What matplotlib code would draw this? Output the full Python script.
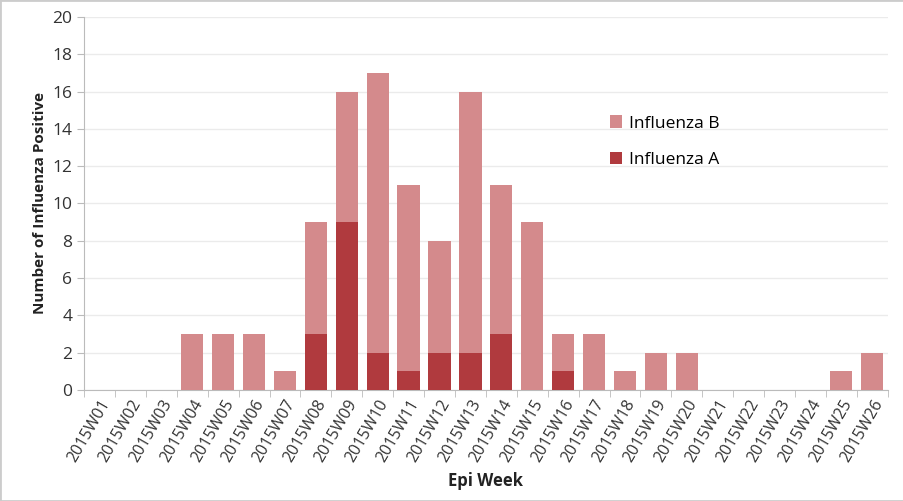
import numpy as np
import matplotlib
matplotlib.use('Agg')
import matplotlib.pyplot as plt

weeks = ['2015W%02d' % i for i in range(1, 27)]
total = [0, 0, 0, 3, 3, 3, 1, 9, 16, 17, 11, 8, 16, 11, 9, 3, 3, 1, 2, 2, 0, 0, 0, 0, 1, 2]
flu_a = [0, 0, 0, 0, 0, 0, 0, 3, 9, 2, 1, 2, 2, 3, 0, 1, 0, 0, 0, 0, 0, 0, 0, 0, 0, 0]
flu_b = [t - a for t, a in zip(total, flu_a)]

plt.rcParams['font.family'] = ['Open Sans', 'DejaVu Sans']

fig = plt.figure(figsize=(9.04, 5.01), dpi=100)
ax = fig.add_axes([0.093, 0.222, 0.889, 0.744])

x = np.arange(len(weeks))
ax.bar(x, flu_a, width=0.72, color='#B03A3E', label='Influenza A', zorder=3)
ax.bar(x, flu_b, width=0.72, bottom=flu_a, color='#D48A8C', label='Influenza B', zorder=3)

ax.set_xlim(-0.5, len(weeks) - 0.5)
ax.set_ylim(0, 20)
ax.set_yticks(range(0, 21, 2))
ax.yaxis.grid(True, color='#ebebeb', linewidth=1, zorder=0)
ax.set_xticks(x)
ax.set_xticklabels(weeks, rotation=60, ha='right', rotation_mode='anchor', fontsize=11.5, color='#333333')
ax.tick_params(axis='y', labelsize=12.5, color='#bbbbbb', labelcolor='#333333', length=5)
ax.set_xticks(np.arange(-0.5, len(weeks), 1), minor=True)
ax.tick_params(axis='x', which='major', length=0, pad=5)
ax.tick_params(axis='x', which='minor', length=5, color='#bbbbbb')

for s in ['top', 'right']:
    ax.spines[s].set_visible(False)
ax.spines['left'].set_color('#bbbbbb')
ax.spines['bottom'].set_color('#bbbbbb')

ax.set_ylabel('Number of Influenza Positive', fontsize=11, fontweight='bold', color='#222222')
ax.set_xlabel('Epi Week', fontsize=12, fontweight='bold', color='#222222', labelpad=5)

h, l = ax.get_legend_handles_labels()
ax.legend(h[::-1], l[::-1], loc='upper left', bbox_to_anchor=(0.635, 0.778), frameon=False,
          fontsize=12.5, handlelength=0.7, handleheight=0.7, labelspacing=1.15, handletextpad=0.4)

fig.patches.append(plt.Rectangle((0, 0), 1, 1, transform=fig.transFigure, fill=False,
                                 edgecolor='#cccccc', linewidth=2))

fig.savefig('out.png', dpi=100)
